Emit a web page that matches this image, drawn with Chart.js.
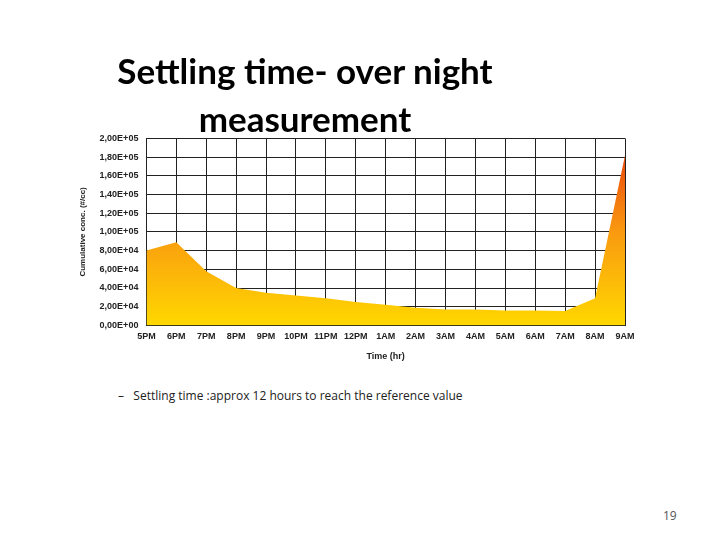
<!DOCTYPE html>
<html><head><meta charset="utf-8">
<script src="https://cdn.jsdelivr.net/npm/chart.js@4/dist/chart.umd.min.js"></script>
<style>
body{margin:0;width:720px;height:540px;background:#fff;position:relative;overflow:hidden;font-family:"Open Sans",Lato,sans-serif}
#t{position:absolute;left:55px;top:46px;width:500px;text-align:center;font-family:Lato,sans-serif;font-weight:bold;font-size:35px;line-height:48px;color:#000;z-index:2}
#c{position:absolute;left:60px;top:125px;width:600px;height:241px}
#b{position:absolute;left:118px;top:387px;font-size:12px;color:#222}
#p{position:absolute;left:663px;top:507px;font-size:12px;color:#555}
</style></head><body>
<div id="t">Settling time- over night<br>measurement</div>
<div id="c"><canvas id="cv"></canvas></div>
<div id="b">–&nbsp;&nbsp;&nbsp;Settling time :approx 12 hours to reach the reference value</div>
<div id="p">19</div>
<script>
const categories=["5PM","6PM","7PM","8PM","9PM","10PM","11PM","12PM","1AM","2AM","3AM","4AM","5AM","6AM","7AM","8AM","9AM"];
const values=[80000,89000,58000,40000,35000,32000,29000,25000,22000,19000,17000,17000,16000,16000,15500,29000,182000];
const yTicks=[0,20000,40000,60000,80000,100000,120000,140000,160000,180000,200000];
function fmt2(v){if(v===0)return '0,00E+00';const e=Math.floor(Math.log10(v));return (v/Math.pow(10,e)).toFixed(2).replace('.',',')+'E+0'+e;}
const tf={family:'Liberation Sans',size:9,weight:'bold'};
new Chart(document.getElementById('cv'),{type:'line',
data:{labels:categories,datasets:[{data:values,fill:'origin',tension:0,pointRadius:0,borderWidth:0,
backgroundColor:(ctx)=>{const a=ctx.chart.chartArea;if(!a)return '#f90';const g=ctx.chart.ctx.createLinearGradient(0,a.top,0,a.bottom);g.addColorStop(0,'#e8380c');g.addColorStop(0.5,'#f99a10');g.addColorStop(1,'#ffd800');return g;}}]},
options:{animation:false,responsive:true,maintainAspectRatio:false,
layout:{padding:{left:14,right:35,top:12,bottom:0}},
plugins:{legend:{display:false},tooltip:{enabled:false}},
scales:{
x:{offset:false,grid:{color:'#222',lineWidth:1,drawTicks:false},border:{color:'#222'},
ticks:{color:'#222',font:tf,maxRotation:0,autoSkip:false,padding:6},
title:{display:true,text:'Time (hr)',color:'#222',font:tf,padding:{top:3}}},
y:{min:0,max:200000,afterBuildTicks:(s)=>{s.ticks=yTicks.map(v=>({value:v}));},
grid:{color:'#222',lineWidth:1,drawTicks:false},border:{color:'#222'},
ticks:{color:'#222',font:tf,padding:8,callback:(v)=>fmt2(v)},
title:{display:true,text:'Cumulative conc. (#/cc)',color:'#222',font:{family:'Liberation Sans',size:8,weight:'bold'},padding:{bottom:4}}}}}});
</script></body></html>
